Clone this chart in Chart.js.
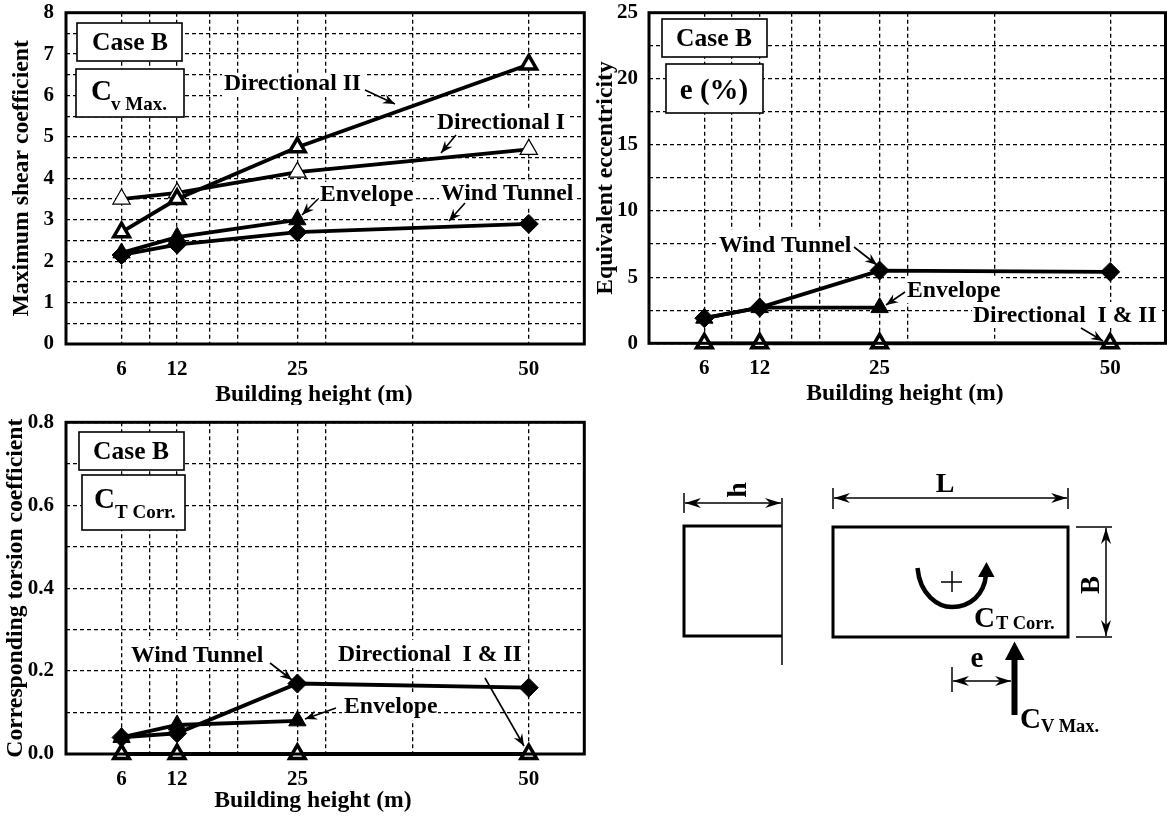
<!DOCTYPE html>
<html lang="en">
<head>
<meta charset="UTF-8">
<title>Case B - building height</title>
<script src="https://cdn.jsdelivr.net/npm/chart.js@4"></script>
<style>
  html, body { margin: 0; padding: 0; background: #fff; }
  body { position: relative; width: 1167px; height: 816px; overflow: hidden; }
  canvas, svg { position: absolute; }
  svg text { font-family: "Liberation Serif", serif; font-weight: bold; fill: #000; }
</style>
</head>
<body>
<canvas id="shear" width="600" height="405" style="left:0;top:0"></canvas>
<canvas id="ecc" width="590" height="405" style="left:590px;top:0"></canvas>
<canvas id="torsion" width="600" height="411" style="left:0;top:405px"></canvas>

<svg width="1167" height="816" style="left:0;top:0;pointer-events:none">
  <defs>
    <marker id="barb" markerUnits="userSpaceOnUse" markerWidth="18" markerHeight="12" refX="16" refY="6" orient="auto-start-reverse">
      <path d="M0 1 L16 6 L0 11 L5 6 Z" fill="#000"/>
    </marker>
  </defs>
  <g fill="none" stroke="#000">
    <path d="M782 526 H684 V636 H782" stroke-width="3"/>
    <path d="M782 498 V665" stroke-width="1.5"/>
    <path d="M684 493 V513" stroke-width="1.5"/>
    <path d="M685 503 H781" stroke-width="1.5" marker-start="url(#barb)" marker-end="url(#barb)"/>
    <rect x="833" y="527" width="235" height="110" stroke-width="3"/>
    <path d="M833 488 V509 M1068 488 V509" stroke-width="1.5"/>
    <path d="M834 498 H1067" stroke-width="1.5" marker-start="url(#barb)" marker-end="url(#barb)"/>
    <path d="M1076 527 H1112 M1076 637 H1112" stroke-width="1.5"/>
    <path d="M1106 528 V636" stroke-width="1.5" marker-start="url(#barb)" marker-end="url(#barb)"/>
    <path d="M941 582 H962 M952 571 V592" stroke-width="1.5"/>
    <path d="M917.5 568 C920 595 938 607 952 607 C970 607 984 595 986 575" stroke-width="4.5"/>
    <path d="M952 667 V692" stroke-width="1.5"/>
    <path d="M953 681 H1011" stroke-width="1.5" marker-start="url(#barb)" marker-end="url(#barb)"/>
    <path d="M1014.5 715 V658" stroke-width="6"/>
  </g>
  <path d="M986.5 562 L978 577 H994.5 Z" fill="#000"/>
  <path d="M1014.5 641.5 L1005 660 H1024.5 Z" fill="#000"/>
  <text x="945" y="492" font-size="28" text-anchor="middle">L</text>
  <text transform="translate(746 490) rotate(-90)" font-size="28" text-anchor="middle">h</text>
  <text transform="translate(1099 585) rotate(-90)" font-size="27" text-anchor="middle">B</text>
  <text x="974" y="627" font-size="29">C</text>
  <text x="996" y="629" font-size="18.5">T Corr.</text>
  <text x="977" y="667" font-size="29" text-anchor="middle">e</text>
  <text x="1020" y="728" font-size="29">C</text>
  <text x="1041" y="732" font-size="18.5">V Max.</text>
</svg>

<script>
// building heights on the x axis, and the extra dashed grid positions
const heights = [6, 12, 25, 50];
const xGrid = [6, 9, 12, 15.5, 18.5, 25, 28, 37.5, 50];
const xTickLabels = ['6', '12', '25', '50'];

// maximum shear coefficient
const shearDir2 = [2.7, 3.5, 4.75, 6.75];
const shearDir1 = [3.5, 3.65, 4.15, 4.7];
const shearEnv = [2.2, 2.58, 3.0];
const shearWind = [2.15, 2.4, 2.7, 2.9];
const shearYTicks = ['0', '1', '2', '3', '4', '5', '6', '7', '8'];

// equivalent eccentricity
const eccDir = [0, 0, 0, 0];
const eccEnv = [1.9, 2.7, 2.7];
const eccWind = [1.9, 2.7, 5.5, 5.4];
const eccYTicks = ['0', '5', '10', '15', '20', '25'];

// corresponding torsion coefficient
const torDir = [0, 0, 0, 0];
const torEnv = [0.04, 0.07, 0.08];
const torWind = [0.04, 0.05, 0.17, 0.16];
const torYTicks = ['0.0', '0.2', '0.4', '0.6', '0.8'];

const FONT = '"Liberation Serif", serif';
const LABEL = 23.7;

function pts(vals) {
    return vals.map((v, i) => ({ x: heights[i], y: v }));
}

function series(label, vals, kind) {
    const base = { label: label, data: pts(vals), borderColor: '#000', borderWidth: 3.8, clip: false, pointBorderColor: '#000' };
    if (kind === 'wind') return Object.assign(base, { pointStyle: 'rectRot', pointRadius: 9.5, pointBackgroundColor: '#000', pointBorderWidth: 1 });
    if (kind === 'env') return Object.assign(base, { pointStyle: 'triangle', pointRadius: 10, pointBackgroundColor: '#000', pointBorderWidth: 1 });
    if (kind === 'thin') return Object.assign(base, { pointStyle: 'triangle', pointRadius: 10, pointBackgroundColor: '#fff', pointBorderWidth: 1.2 });
    return Object.assign(base, { pointStyle: 'triangle', pointRadius: 9, pointBackgroundColor: '#fff', pointBorderWidth: 3.5 });
}

function arrow(ctx, x1, y1, x2, y2) {
    const a = Math.atan2(y2 - y1, x2 - x1);
    ctx.strokeStyle = '#000';
    ctx.fillStyle = '#000';
    ctx.lineWidth = 1.6;
    ctx.beginPath();
    ctx.moveTo(x1, y1);
    ctx.lineTo(x2, y2);
    ctx.stroke();
    ctx.beginPath();
    ctx.moveTo(x2, y2);
    ctx.lineTo(x2 - 13 * Math.cos(a - 0.38), y2 - 13 * Math.sin(a - 0.38));
    ctx.lineTo(x2 - 8 * Math.cos(a), y2 - 8 * Math.sin(a));
    ctx.lineTo(x2 - 13 * Math.cos(a + 0.38), y2 - 13 * Math.sin(a + 0.38));
    ctx.closePath();
    ctx.fill();
}

// draws white masks behind the labels, the frame, the label boxes and the little arrows
const notesPlugin = {
    id: 'notes',
    beforeDatasetsDraw(chart, args, opts) {
        const ctx = chart.ctx;
        ctx.save();
        ctx.fillStyle = '#fff';
        opts.masks.forEach(m => ctx.fillRect(m[0] - opts.ox, m[1] - opts.oy, m[2], m[3]));
        ctx.restore();
    },
    afterDatasetsDraw(chart, args, opts) {
        const ctx = chart.ctx;
        const a = chart.chartArea;
        ctx.save();
        ctx.strokeStyle = '#000';
        ctx.lineWidth = 3;
        ctx.strokeRect(a.left, a.top, a.right - a.left, a.bottom - a.top);
        ctx.translate(-opts.ox, -opts.oy);
        opts.boxes.forEach(b => {
            ctx.fillStyle = '#fff';
            ctx.fillRect(b[0], b[1], b[2], b[3]);
            ctx.lineWidth = 1.6;
            ctx.strokeRect(b[0], b[1], b[2], b[3]);
        });
        ctx.fillStyle = '#000';
        ctx.textBaseline = 'alphabetic';
        opts.texts.forEach(t => {
            ctx.font = 'bold ' + t[3] + 'px ' + FONT;
            ctx.textAlign = t[4] || 'left';
            ctx.fillText(t[0], t[1], t[2]);
        });
        opts.arrows.forEach(r => arrow(ctx, r[0], r[1], r[2], r[3]));
        ctx.restore();
    }
};

function makeChart(id, datasets, yMax, yStep, yLabels, geom, notes) {
    return new Chart(document.getElementById(id), {
        type: 'line',
        data: { datasets: datasets },
        plugins: [notesPlugin],
        options: {
            responsive: false,
            animation: false,
            layout: { padding: { top: geom.top, right: geom.right, left: 0, bottom: 0 } },
            elements: { line: { tension: 0 } },
            plugins: {
                legend: { display: false },
                tooltip: { enabled: false },
                notes: notes
            },
            scales: {
                x: {
                    type: 'linear',
                    min: 0,
                    max: 56,
                    afterBuildTicks: s => { s.ticks = xGrid.map(v => ({ value: v })); },
                    // fixed plot box, the scale must not add room for its labels
                    afterFit: s => { s.height = geom.xHeight; s.paddingLeft = 0; s.paddingRight = 0; },
                    border: { display: false, dash: [4, 3] },
                    grid: { color: '#000', lineWidth: 1.3, drawTicks: false },
                    ticks: {
                        autoSkip: false,
                        maxRotation: 0,
                        padding: geom.xPad,
                        color: '#000',
                        font: { family: FONT, size: 21, weight: 'bold' },
                        callback: v => xTickLabels.includes(String(v)) ? String(v) : ''
                    }
                },
                y: {
                    min: 0,
                    max: yMax,
                    afterFit: s => { s.width = geom.yWidth; s.paddingTop = 0; s.paddingBottom = 0; },
                    border: { display: false, dash: [4, 3] },
                    grid: { color: '#000', lineWidth: 1.3, drawTicks: false },
                    title: {
                        display: true,
                        text: geom.yTitle,
                        color: '#000',
                        font: { family: FONT, size: LABEL, weight: 'bold' },
                        padding: { top: geom.yTitlePad, bottom: 0 }
                    },
                    ticks: {
                        stepSize: yStep,
                        autoSkip: false,
                        padding: geom.yPad,
                        color: '#000',
                        font: { family: FONT, size: 21, weight: 'bold' },
                        callback: v => {
                            const s = yLabels[0].includes('.') ? v.toFixed(1) : String(v);
                            return yLabels.includes(s) ? s : '';
                        }
                    }
                }
            }
        }
    });
}

makeChart('shear', [
    series('Directional II', shearDir2, 'thick'),
    series('Directional I', shearDir1, 'thin'),
    series('Envelope', shearEnv, 'env'),
    series('Wind Tunnel', shearWind, 'wind')
], 8, 0.5, shearYTicks, {
    top: 12.7, right: 15.7, xHeight: 61, xPad: 13, yWidth: 66, yPad: 12,
    yTitle: 'Maximum shear coefficient', yTitlePad: 8
}, {
    ox: 0, oy: 0,
    masks: [[222, 73, 142, 24], [435, 110, 134, 26], [319, 182, 95, 26], [439, 181, 137, 26]],
    boxes: [[77, 23, 105, 38], [76, 69, 108, 48]],
    texts: [
        ['Case B', 130, 50, 25.5, 'center'],
        ['C', 91, 100, 29], ['v Max.', 111, 110, 19],
        ['Directional II', 224, 90, LABEL], ['Directional I', 437, 129, LABEL],
        ['Envelope', 320, 201, LABEL], ['Wind Tunnel', 441, 200, LABEL],
        ['Building height (m)', 314, 401, LABEL, 'center']
    ],
    arrows: [[365, 90, 395, 104], [456, 135, 441, 153], [318, 199, 302, 215], [465, 203, 449, 221]]
});

makeChart('ecc', [
    series('Directional I & II', eccDir, 'thick'),
    series('Envelope', eccEnv, 'env'),
    series('Wind Tunnel', eccWind, 'wind')
], 25, 2.5, eccYTicks, {
    top: 12.7, right: 14.5, xHeight: 61.7, xPad: 13, yWidth: 59, yPad: 11,
    yTitle: 'Equivalent eccentricity', yTitlePad: 2
}, {
    ox: 590, oy: 0,
    masks: [[718, 230, 138, 28], [905, 277, 96, 26], [972, 302, 190, 26]],
    boxes: [[662, 19, 105, 38], [666, 64, 97, 49]],
    texts: [
        ['Case B', 714, 46, 25.5, 'center'],
        ['e (%)', 714, 99, 29, 'center'],
        ['Wind Tunnel', 719, 252, LABEL], ['Envelope', 907, 297, LABEL],
        ['Directional  I & II', 973, 322, LABEL],
        ['Building height (m)', 905, 400, LABEL, 'center']
    ],
    arrows: [[854, 247, 877, 265], [905, 292, 886, 305], [1081, 328, 1103, 341]]
});

makeChart('torsion', [
    series('Directional I & II', torDir, 'thick'),
    series('Envelope', torEnv, 'env'),
    series('Wind Tunnel', torWind, 'wind')
], 0.8, 0.1, torYTicks, {
    top: 17.3, right: 15.7, xHeight: 62, xPad: 13, yWidth: 66, yPad: 12,
    yTitle: 'Corresponding torsion coefficient', yTitlePad: 2
}, {
    ox: 0, oy: 405,
    masks: [[129, 640, 138, 28], [336, 640, 190, 28], [342, 692, 96, 28]],
    boxes: [[79, 432, 105, 38], [82, 475, 103, 55]],
    texts: [
        ['Case B', 131, 459, 25.5, 'center'],
        ['C', 94, 508, 29], ['T Corr.', 115, 518, 19],
        ['Wind Tunnel', 131, 662, LABEL], ['Directional  I & II', 338, 661, LABEL],
        ['Envelope', 344, 713, LABEL],
        ['Building height (m)', 313, 807, LABEL, 'center']
    ],
    arrows: [[270, 663, 292, 680], [485, 678, 524, 746], [336, 708, 305, 719]]
});
</script>
</body>
</html>
